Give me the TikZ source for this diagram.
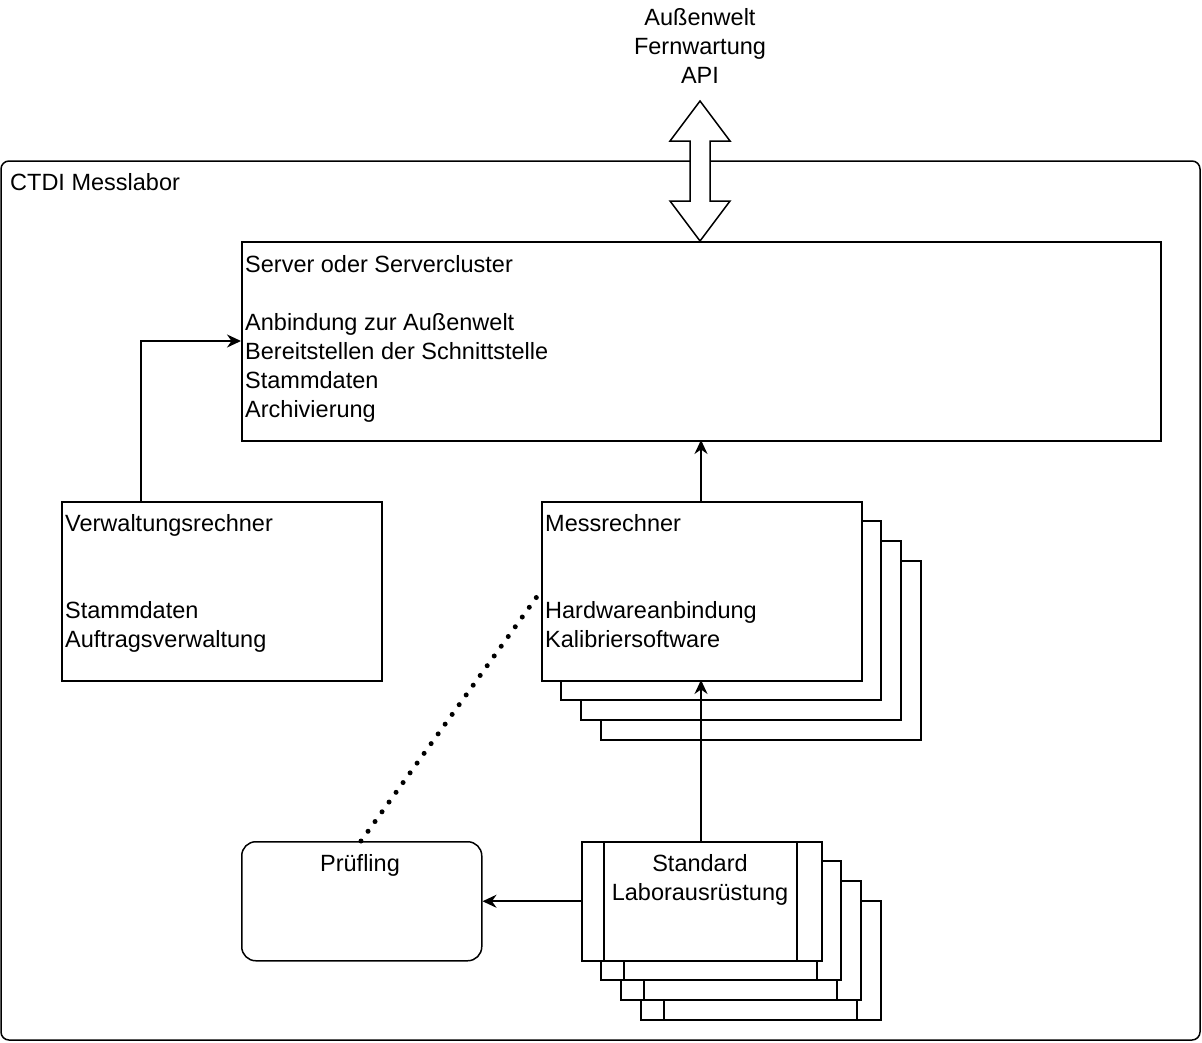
\documentclass[tikz,border=0pt]{standalone}
\usepackage{fontspec}
\setmainfont{Liberation Sans}
\usetikzlibrary{arrows.meta}
\begin{document}
\begin{tikzpicture}[x=1pt,y=-1pt,
  box/.style={draw,line width=1.5pt,fill=white},
  arr/.style={line width=2pt,-{Stealth[length=14pt,width=13pt]}},
  txt/.style={font=\fontsize{23.5}{29}\selectfont,inner sep=0pt}]
\useasboundingbox (0,0) rectangle (1202,1042);
\draw[line width=1.5pt,rounded corners=8pt] (1,161) rectangle (1200,1040);
\node[txt,anchor=west] (lab) at (10,182) {CTDI Messlabor};
\node[txt,align=center,anchor=north] (aw) at (700,8) {Außenwelt\\Fernwartung\\API};
\draw[line width=1.5pt,fill=white] (700,101) -- (730,141) -- (710,141) -- (710,201) -- (730,201) -- (700,241) -- (670,201) -- (690,201) -- (690,141) -- (670,141) -- cycle;
\node[box,minimum width=919pt,minimum height=199pt,anchor=north west] (srv) at (241,241) {};
\node[txt,align=left,anchor=north west] at (245,255) {Server oder Servercluster\\[0pt]\strut\\Anbindung zur Außenwelt\\Bereitstellen der Schnittstelle\\Stammdaten\\Archivierung};
\node[box,minimum width=320pt,minimum height=179pt,anchor=north west] (vr) at (61,501) {};
\node[txt,align=left,anchor=north west] at (65,514) {Verwaltungsrechner\\\strut\\\strut\\Stammdaten\\Auftragsverwaltung};
\foreach \i in {3,2,1} \draw[box] (541+20*\i,501+20*\i) rectangle (861+20*\i,680+20*\i);
\node[box,minimum width=320pt,minimum height=179pt,anchor=north west] (mr) at (541,501) {};
\node[txt,align=left,anchor=north west] at (545,514) {Messrechner\\\strut\\\strut\\Hardwareanbindung\\Kalibriersoftware};
\foreach \i in {3,2,1} {\draw[box] (581+20*\i,841+20*\i) rectangle (821+20*\i,960+20*\i);
  \draw[line width=1.5pt] (604+20*\i,841+20*\i) -- (604+20*\i,960+20*\i) (797+20*\i,841+20*\i) -- (797+20*\i,960+20*\i);}
\node[box,minimum width=240pt,minimum height=119pt,anchor=north west] (std) at (581,841) {};
\draw[line width=1.5pt] (604,841) -- (604,960) (797,841) -- (797,960);
\node[txt,align=center,anchor=north] at (700,854) {Standard\\Laborausrüstung};
\node[box,rounded corners=14pt,minimum width=240pt,minimum height=119pt,anchor=north west] (pr) at (241,841) {};
\node[txt,anchor=north] at (360,854) {Prüfling};
\draw[arr] (vr.north -| 141,0) |- (srv.west |- 0,341);
\draw[arr] (701,501) -- (701,440);
\draw[arr] (701,841) -- (701,680);
\draw[arr] (std.west) -- (pr.east);
\draw[line width=5pt,line cap=round,dash pattern=on 0pt off 12pt] (361,841) -- (541,591);
\end{tikzpicture}
\end{document}
